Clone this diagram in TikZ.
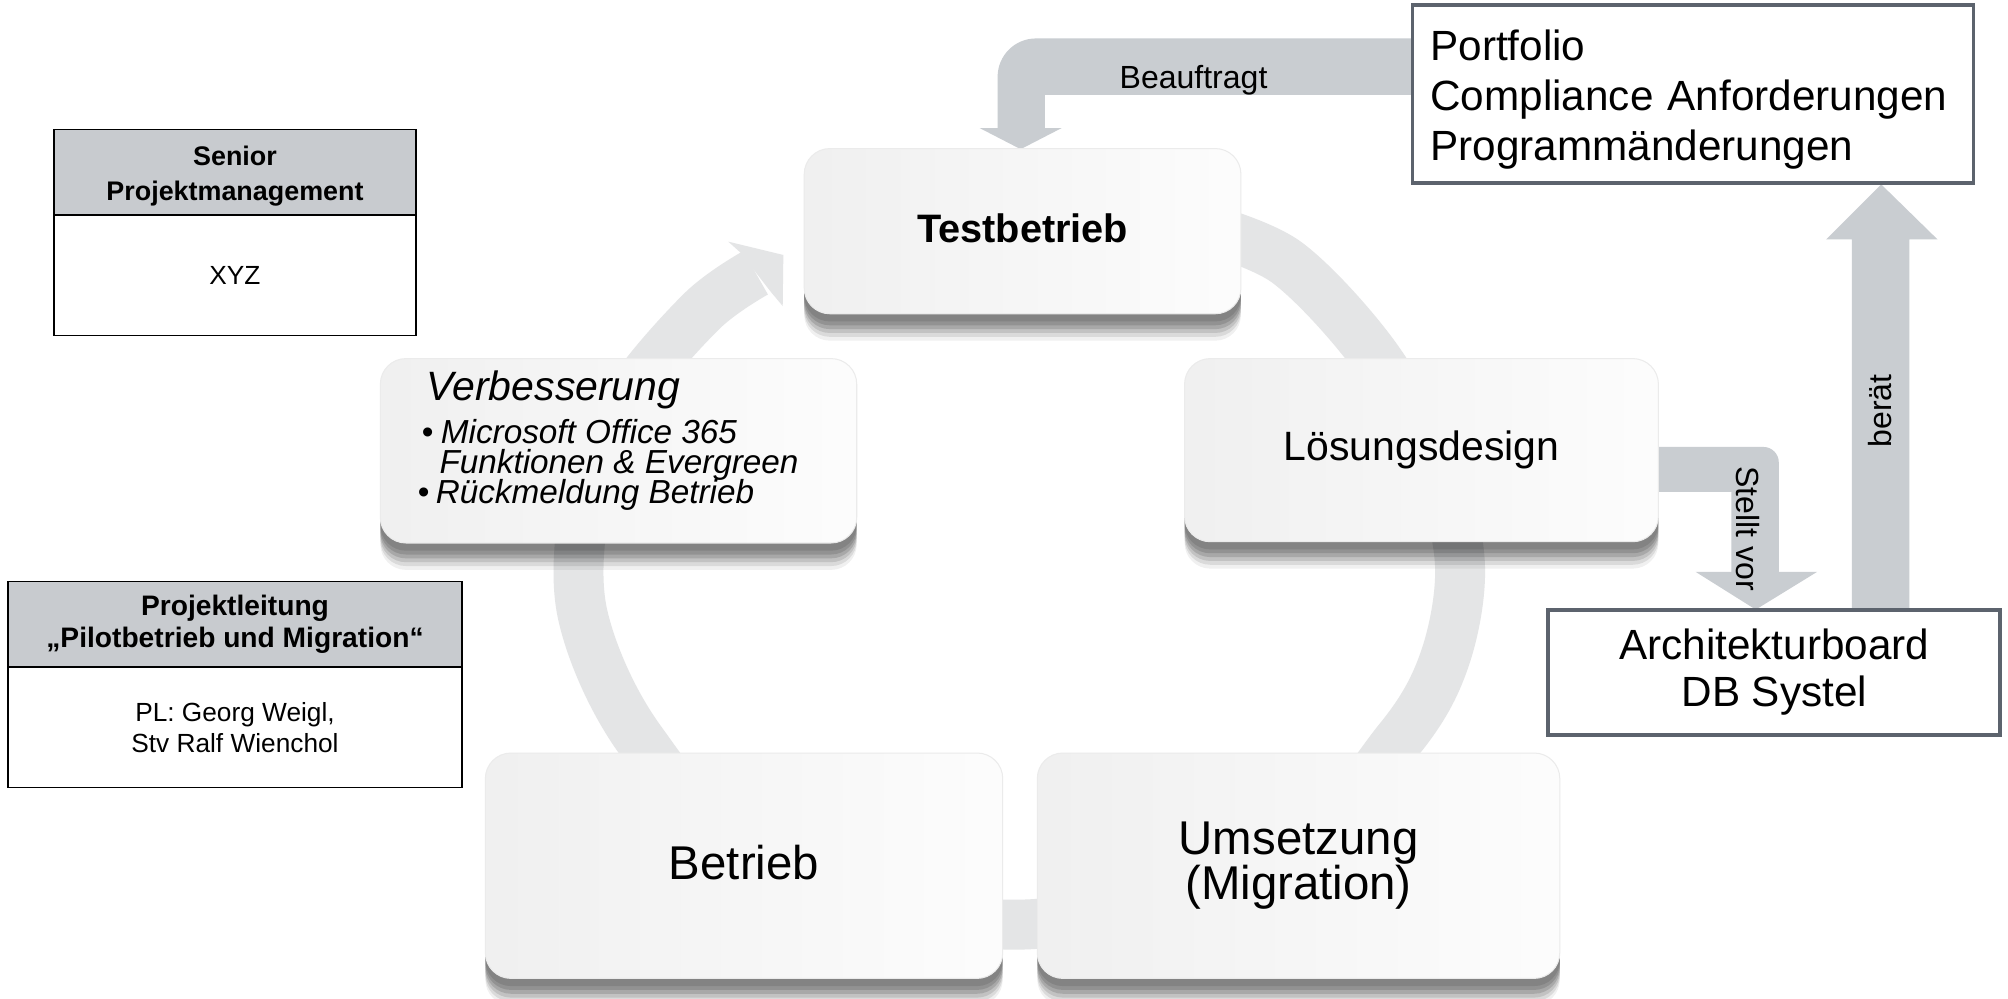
\documentclass[tikz,border=0pt]{standalone}
\usepackage{fontspec}
\setmainfont{Liberation Sans}
\definecolor{arrgray}{HTML}{C9CDD1}
\definecolor{hdrgray}{HTML}{C8CBCF}
\definecolor{framegray}{HTML}{5C636D}
\definecolor{ringgray}{HTML}{E4E5E6}
\newcommand{\fsz}[2]{\fontsize{#1}{#2}\selectfont}
\begin{document}
\begin{tikzpicture}[x=1pt,y=-1pt,
  cyc/.style={rounded corners=20pt, draw=black!8, line width=0.8pt,
    left color=black!6, right color=black!1, align=center, inner sep=0pt,
    preaction={fill=black, opacity=0.06, transform canvas={yshift=-21pt}},
    preaction={fill=black, opacity=0.09, transform canvas={yshift=-18pt}},
    preaction={fill=black, opacity=0.11, transform canvas={yshift=-15pt}},
    preaction={fill=black, opacity=0.13, transform canvas={yshift=-12pt}},
    preaction={fill=black, opacity=0.13, transform canvas={yshift=-9pt}},
    preaction={fill=black, opacity=0.10, transform canvas={yshift=-6pt}}},
  hdr/.style={draw=black, line width=1.3pt, fill=hdrgray, align=center, inner sep=0pt, font=\bfseries},
  bdy/.style={draw=black, line width=1.3pt, fill=white, align=center, inner sep=0pt},
  framebox/.style={draw=framegray, line width=3pt, fill=white, inner sep=0pt},
  lbl/.style={inner sep=0pt, font=\fsz{25}{30}},
  vtxt/.style={anchor=base west, inner sep=0pt, font=\itshape\fsz{26}{30}}
]
\useasboundingbox (0,0) rectangle (1568,780);
\fill[white] (0,0) rectangle (1568,780);

% ---- cycle ring ----
\draw[ringgray, line width=39pt] plot[smooth, tension=0.55] coordinates {
  (940,178) (1005,205) (1072,276) (1120,360) (1140,440) (1128,515) (1092,578)
  (1000,672) (797,722) (600,680) (500,578) (455,480) (458,390) (490,312)
  (548,243) (590,213)};
\fill[ringgray] (578,197) -- (568.7,188.7) -- (611.7,199.1) -- (611.2,239) -- (602,228) -- cycle;

% ---- block arrows ----
\fill[arrgray] (1110,74) -- (1110,30) -- (809,30) .. controls (792.4,30) and (779,43.4) .. (779,60)
  -- (779,100) -- (765,100) -- (797,116.5) -- (829,100) -- (816,100) -- (816,74) -- cycle;
\fill[arrgray] (1282,349) -- (1377,349) .. controls (1383.6,349) and (1389,354.4) .. (1389,361)
  -- (1389,446.5) -- (1419,446.5) -- (1371,476) -- (1324,446.5) -- (1352,446.5) -- (1352,384) -- (1282,384) -- cycle;
\fill[arrgray] (1446,478) -- (1446,187) -- (1426,187) -- (1469,144) -- (1513,187) -- (1491,187) -- (1491,478) -- cycle;

% ---- cycle boxes ----
\node[cyc, minimum width=341pt, minimum height=129pt, font=\bfseries\fsz{31}{36}] (test) at (798.5,180.5) {\raisebox{5pt}{Testbetrieb}};
\node[cyc, minimum width=370pt, minimum height=143pt, font=\fsz{32}{38}] (loes) at (1110,351.5) {\raisebox{2pt}{Lösungsdesign}};
\node[cyc, minimum width=372pt, minimum height=144pt] (verb) at (483,352) {};
\node[cyc, minimum width=404pt, minimum height=176pt, font=\fsz{37}{42}] (betr) at (581,676) {\raisebox{5pt}{Betrieb}};
\node[cyc, minimum width=408pt, minimum height=176pt, font=\fsz{37}{34}] (umse) at (1014,676) {Umsetzung\\(Migration)};

\node[vtxt, font=\itshape\fsz{32}{36}] (vb0) at (333,313) {Verbesserung};
\node[vtxt] (vb1) at (329,346) {\textbullet\hspace{6pt}Microsoft Office 365};
\node[vtxt] (vb2) at (343,369.5) {Funktionen \& Evergreen};
\node[vtxt] (vb3) at (326,393) {\textbullet\hspace{5pt}Rückmeldung Betrieb};

% ---- label boxes ----
\node[framebox, minimum width=438pt, minimum height=139pt, text width=410pt, align=left, font=\fsz{33}{39}] (port) at (1322,73.5)
  {\rule{0pt}{33pt}Portfolio\\Compliance Anforderungen\\Programmänderungen};
\node[framebox, minimum width=353pt, minimum height=98pt, align=center, font=\fsz{33}{37}] (arch) at (1385.5,525)
  {Architekturboard\\DB Systel};

\node[lbl] (lbeauf) at (932,63) {Beauftragt};
\node[lbl, rotate=90] (lberaet) at (1468,321) {berät};
\node[lbl, rotate=-90] (lstellt) at (1365,413) {Stellt vor};

% ---- org boxes ----
\node[hdr, minimum width=283pt, minimum height=67pt, font=\bfseries\fsz{21}{27}] (senhead) at (183.5,134.5) {\rule{0pt}{21pt}Senior\\Projektmanagement};
\node[bdy, minimum width=283pt, minimum height=94pt, font=\fsz{20.5}{25}] (senbody) at (183.5,215) {XYZ};
\node[hdr, minimum width=355pt, minimum height=67pt, font=\bfseries\fsz{22}{25}] (plhead) at (183.5,487.5) {Projektleitung\\„Pilotbetrieb und Migration“};
\node[bdy, minimum width=355pt, minimum height=94pt, font=\fsz{20.5}{24.5}] (plbody) at (183.5,568) {PL: Georg Weigl,\\Stv Ralf Wienchol};
\end{tikzpicture}
\end{document}
